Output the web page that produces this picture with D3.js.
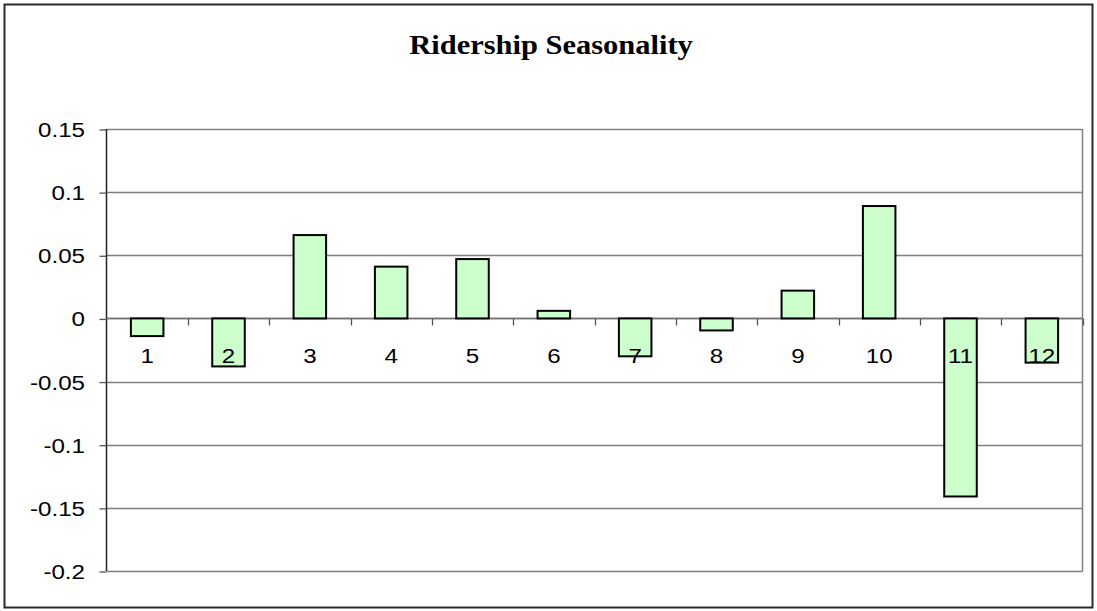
<!DOCTYPE html>
<html>
<head>
<meta charset="utf-8">
<script src="https://cdn.jsdelivr.net/npm/d3@7"></script>
<style>
  html, body { margin: 0; padding: 0; background: #fff; }
  svg { display: block; }
</style>
</head>
<body>
<svg id="chart" width="1097" height="611"></svg>
<script>
// Monthly ridership seasonality factors
const months = ["1", "2", "3", "4", "5", "6", "7", "8", "9", "10", "11", "12"];
const seasonality = [-0.014, -0.038, 0.066, 0.041, 0.047, 0.006, -0.030, -0.0095, 0.022, 0.089, -0.141, -0.035];
const yTicks = [0.15, 0.1, 0.05, 0, -0.05, -0.1, -0.15, -0.2];
const yTickLabels = ["0.15", "0.1", "0.05", "0", "-0.05", "-0.1", "-0.15", "-0.2"];
const chartTitle = "Ridership Seasonality";

const W = 1097, H = 611;
const plot = { left: 106.5, right: 1082.5, top: 129, bottom: 571 };
const sx = 1.15; // horizontal stretch of the lettering

const svg = d3.select("#chart");

// outer frame
svg.append("rect")
  .attr("x", 4.5).attr("y", 4.5)
  .attr("width", W - 9).attr("height", H - 8)
  .attr("fill", "#fff")
  .attr("stroke", "#2a2a2a").attr("stroke-width", 2);

const x = d3.scaleBand()
  .domain(months)
  .range([plot.left, plot.right])
  .paddingInner(0.6)
  .paddingOuter(0.3);

const y = d3.scaleLinear()
  .domain([-0.2, 0.15])
  .range([plot.bottom, plot.top]);

const step = x.step();

// horizontal gridlines
svg.append("g")
  .selectAll("line")
  .data(yTicks)
  .join("line")
  .attr("x1", plot.left).attr("x2", plot.right)
  .attr("y1", d => Math.round(y(d)) + 0.5).attr("y2", d => Math.round(y(d)) + 0.5)
  .attr("stroke", "#808080").attr("stroke-width", 1.3);

// right edge of plot area
svg.append("line")
  .attr("x1", plot.right).attr("x2", plot.right)
  .attr("y1", plot.top).attr("y2", plot.bottom + 0.5)
  .attr("stroke", "#808080").attr("stroke-width", 1.5);

// y axis
const yAxis = svg.append("g")
  .attr("transform", `translate(${plot.left},0)`)
  .call(d3.axisLeft(y)
    .tickValues(yTicks)
    .tickSize(7)
    .tickPadding(0)
    .tickFormat((d, i) => yTickLabels[i]));
yAxis.select(".domain").attr("stroke", "#222").attr("stroke-width", 1.5)
  .attr("d", `M0,${plot.top}V${plot.bottom}`);
yAxis.selectAll(".tick line").attr("stroke", "#555").attr("stroke-width", 1.3)
  .attr("transform", "translate(0,0.5)");
yAxis.selectAll(".tick text")
  .attr("fill", "#000")
  .attr("font-family", "'Liberation Sans', Arial, sans-serif")
  .attr("font-size", 21)
  .attr("text-anchor", "end")
  .attr("dy", null)
  .attr("x", -21.5 / sx)
  .attr("y", 7.5)
  .attr("transform", `scale(${sx},1)`);

// category axis along zero
const y0 = Math.round(y(0)) + 0.5;
svg.append("line")
  .attr("x1", plot.left).attr("x2", plot.right)
  .attr("y1", y0).attr("y2", y0)
  .attr("stroke", "#707070").attr("stroke-width", 1.5);

const boundaries = months.slice(1).map(m => x(m) - step * x.paddingInner() / 2).concat([plot.right]);
svg.append("g")
  .selectAll("line")
  .data(boundaries)
  .join("line")
  .attr("x1", d => Math.round(d) + 0.5).attr("x2", d => Math.round(d) + 0.5)
  .attr("y1", y0).attr("y2", y0 + 7)
  .attr("stroke", "#555").attr("stroke-width", 1.3);

// bars
svg.append("g")
  .selectAll("rect")
  .data(months.map((m, i) => ({ m, v: seasonality[i] })))
  .join("rect")
  .attr("x", d => x(d.m))
  .attr("width", x.bandwidth())
  .attr("y", d => y(Math.max(0, d.v)))
  .attr("height", d => Math.abs(y(d.v) - y(0)))
  .attr("fill", "#ccffcc")
  .attr("stroke", "#000")
  .attr("stroke-width", 2);

// category labels
svg.append("g")
  .selectAll("text")
  .data(months)
  .join("text")
  .attr("transform", d => `translate(${x(d) + x.bandwidth() / 2},${y(0) + 44.5}) scale(${sx},1)`)
  .attr("text-anchor", "middle")
  .attr("font-family", "'Liberation Sans', Arial, sans-serif")
  .attr("font-size", 21)
  .attr("fill", "#000")
  .text(d => d);

// title
svg.append("text")
  .attr("transform", `translate(551,53.5) scale(${sx},1)`)
  .attr("text-anchor", "middle")
  .attr("font-family", "'Liberation Serif', 'Times New Roman', serif")
  .attr("font-weight", "bold")
  .attr("font-size", 26.5)
  .attr("fill", "#000")
  .text(chartTitle);
</script>
</body>
</html>
